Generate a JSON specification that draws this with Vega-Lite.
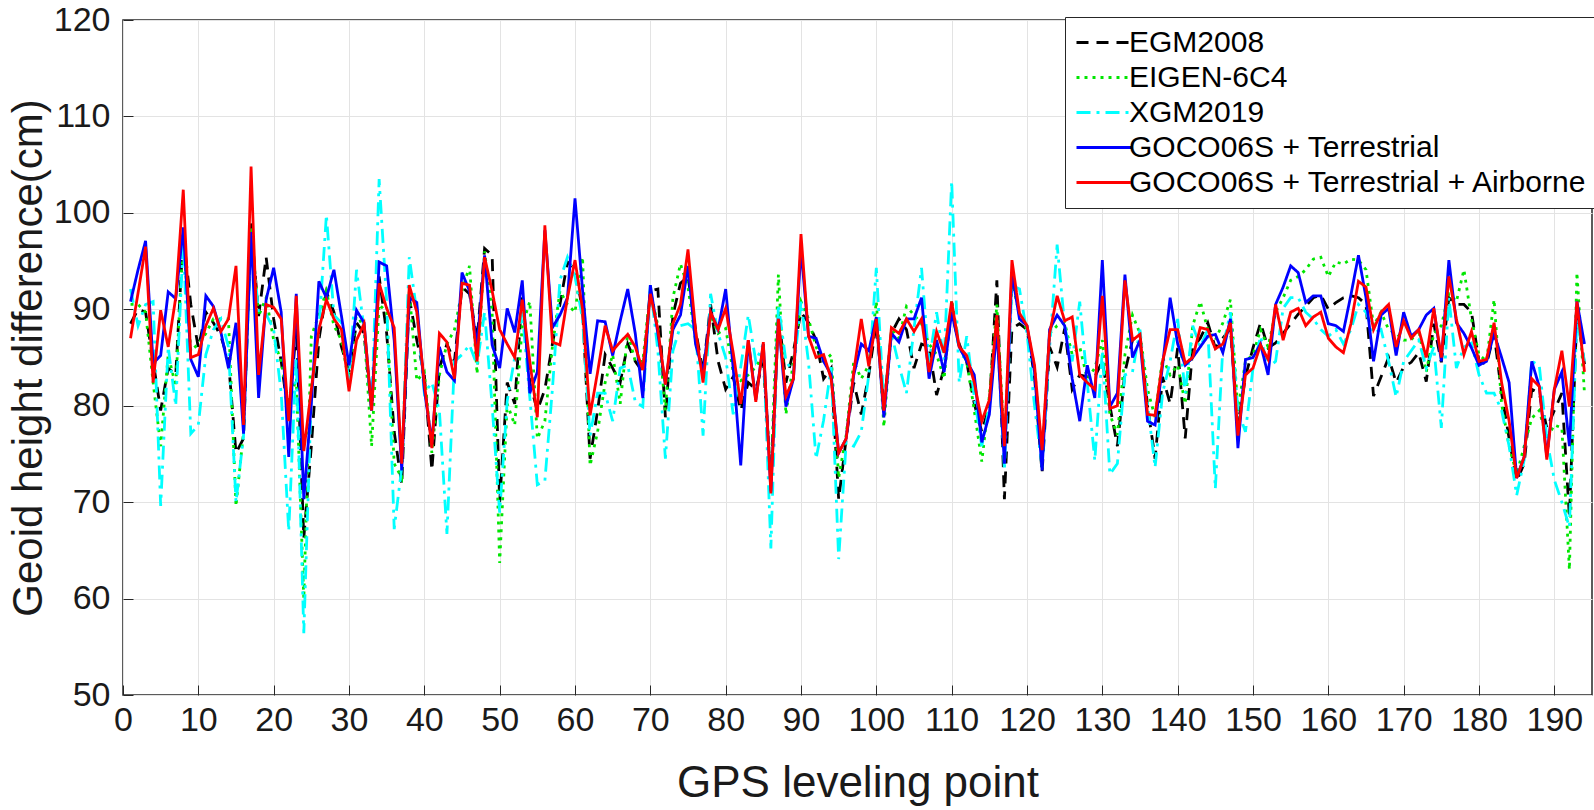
{
"$schema":"https://vega.github.io/schema/vega-lite/v6.json",
"width":1469,"height":675,
"autosize":{"type":"none"},
"padding":{"left":123,"top":20,"right":2,"bottom":115},
"background":"white",
"config":{"view":{"stroke":"#262626","strokeWidth":1.5},"font":"Liberation Sans"},
"data":{"values":[
{"i":1,"EGM2008":88.5,"EIGEN-6C4":90.5,"XGM2019":92.1,"GT":90.8,"GTA":87.0},
{"i":2,"EGM2008":90.0,"EIGEN-6C4":90.5,"XGM2019":88.3,"GT":94.1,"GTA":91.7},
{"i":3,"EGM2008":89.7,"EIGEN-6C4":89.7,"XGM2019":90.5,"GT":97.1,"GTA":96.5},
{"i":4,"EGM2008":84.6,"EIGEN-6C4":82.4,"XGM2019":90.8,"GT":84.4,"GTA":82.4},
{"i":5,"EGM2008":79.5,"EIGEN-6C4":75.8,"XGM2019":69.6,"GT":85.2,"GTA":89.9},
{"i":6,"EGM2008":83.9,"EIGEN-6C4":85.3,"XGM2019":86.1,"GT":91.8,"GTA":86.1},
{"i":7,"EGM2008":83.2,"EIGEN-6C4":82.0,"XGM2019":80.0,"GT":91.1,"GTA":91.2},
{"i":8,"EGM2008":97.8,"EIGEN-6C4":97.8,"XGM2019":97.1,"GT":98.5,"GTA":102.4},
{"i":9,"EGM2008":90.5,"EIGEN-6C4":85.7,"XGM2019":77.1,"GT":84.8,"GTA":85.0},
{"i":10,"EGM2008":86.0,"EIGEN-6C4":86.4,"XGM2019":78.0,"GT":83.0,"GTA":85.3},
{"i":11,"EGM2008":89.7,"EIGEN-6C4":87.5,"XGM2019":85.3,"GT":91.4,"GTA":88.3},
{"i":12,"EGM2008":88.6,"EIGEN-6C4":89.0,"XGM2019":87.9,"GT":90.3,"GTA":90.1},
{"i":13,"EGM2008":87.2,"EIGEN-6C4":89.0,"XGM2019":89.0,"GT":87.6,"GTA":87.7},
{"i":14,"EGM2008":84.6,"EIGEN-6C4":89.0,"XGM2019":86.1,"GT":83.9,"GTA":89.0},
{"i":15,"EGM2008":75.1,"EIGEN-6C4":69.6,"XGM2019":70.0,"GT":88.6,"GTA":94.5},
{"i":16,"EGM2008":76.6,"EIGEN-6C4":77.3,"XGM2019":76.9,"GT":77.1,"GTA":78.0},
{"i":17,"EGM2008":98.9,"EIGEN-6C4":98.5,"XGM2019":97.8,"GT":98.0,"GTA":104.8},
{"i":18,"EGM2008":89.3,"EIGEN-6C4":89.3,"XGM2019":89.7,"GT":80.8,"GTA":83.2},
{"i":19,"EGM2008":95.4,"EIGEN-6C4":91.2,"XGM2019":89.5,"GT":91.0,"GTA":90.5},
{"i":20,"EGM2008":89.0,"EIGEN-6C4":86.8,"XGM2019":87.9,"GT":94.3,"GTA":90.2},
{"i":21,"EGM2008":84.6,"EIGEN-6C4":84.6,"XGM2019":81.3,"GT":89.7,"GTA":89.0},
{"i":22,"EGM2008":78.8,"EIGEN-6C4":80.2,"XGM2019":67.0,"GT":74.7,"GTA":78.4},
{"i":23,"EGM2008":88.0,"EIGEN-6C4":82.8,"XGM2019":85.0,"GT":91.6,"GTA":91.4},
{"i":24,"EGM2008":66.3,"EIGEN-6C4":60.0,"XGM2019":56.4,"GT":70.3,"GTA":75.3},
{"i":25,"EGM2008":75.8,"EIGEN-6C4":87.2,"XGM2019":81.3,"GT":80.2,"GTA":81.7},
{"i":26,"EGM2008":86.8,"EIGEN-6C4":89.4,"XGM2019":87.9,"GT":92.9,"GTA":87.9},
{"i":27,"EGM2008":91.8,"EIGEN-6C4":91.9,"XGM2019":99.8,"GT":91.2,"GTA":91.0},
{"i":28,"EGM2008":89.7,"EIGEN-6C4":88.3,"XGM2019":89.4,"GT":94.1,"GTA":89.0},
{"i":29,"EGM2008":86.1,"EIGEN-6C4":86.8,"XGM2019":88.6,"GT":89.3,"GTA":87.9},
{"i":30,"EGM2008":83.5,"EIGEN-6C4":82.4,"XGM2019":82.4,"GT":84.2,"GTA":81.5},
{"i":31,"EGM2008":88.6,"EIGEN-6C4":89.7,"XGM2019":94.1,"GT":89.9,"GTA":86.8},
{"i":32,"EGM2008":87.5,"EIGEN-6C4":87.9,"XGM2019":87.9,"GT":88.6,"GTA":88.5},
{"i":33,"EGM2008":79.5,"EIGEN-6C4":75.8,"XGM2019":79.5,"GT":79.5,"GTA":79.5},
{"i":34,"EGM2008":93.4,"EIGEN-6C4":90.5,"XGM2019":103.5,"GT":94.9,"GTA":92.7},
{"i":35,"EGM2008":87.5,"EIGEN-6C4":89.7,"XGM2019":90.8,"GT":94.5,"GTA":90.1},
{"i":36,"EGM2008":77.3,"EIGEN-6C4":74.0,"XGM2019":67.2,"GT":86.8,"GTA":88.1},
{"i":37,"EGM2008":71.8,"EIGEN-6C4":72.5,"XGM2019":73.6,"GT":73.3,"GTA":74.0},
{"i":38,"EGM2008":91.2,"EIGEN-6C4":91.9,"XGM2019":95.4,"GT":91.2,"GTA":92.5},
{"i":39,"EGM2008":86.8,"EIGEN-6C4":82.6,"XGM2019":89.7,"GT":90.7,"GTA":89.7},
{"i":40,"EGM2008":83.2,"EIGEN-6C4":83.5,"XGM2019":81.3,"GT":81.7,"GTA":82.4},
{"i":41,"EGM2008":73.3,"EIGEN-6C4":75.1,"XGM2019":82.4,"GT":76.2,"GTA":75.6},
{"i":42,"EGM2008":83.9,"EIGEN-6C4":83.2,"XGM2019":79.5,"GT":86.1,"GTA":87.5},
{"i":43,"EGM2008":86.4,"EIGEN-6C4":86.4,"XGM2019":66.7,"GT":83.5,"GTA":86.6},
{"i":44,"EGM2008":84.6,"EIGEN-6C4":87.9,"XGM2019":84.6,"GT":82.6,"GTA":82.8},
{"i":45,"EGM2008":92.3,"EIGEN-6C4":91.9,"XGM2019":85.3,"GT":93.8,"GTA":92.7},
{"i":46,"EGM2008":91.6,"EIGEN-6C4":94.5,"XGM2019":86.3,"GT":91.9,"GTA":92.5},
{"i":47,"EGM2008":86.8,"EIGEN-6C4":83.3,"XGM2019":84.2,"GT":86.1,"GTA":84.6},
{"i":48,"EGM2008":96.3,"EIGEN-6C4":96.0,"XGM2019":89.7,"GT":95.6,"GTA":95.4},
{"i":49,"EGM2008":95.6,"EIGEN-6C4":89.7,"XGM2019":80.0,"GT":86.3,"GTA":91.9},
{"i":50,"EGM2008":70.0,"EIGEN-6C4":63.7,"XGM2019":68.9,"GT":83.9,"GTA":87.9},
{"i":51,"EGM2008":82.4,"EIGEN-6C4":80.2,"XGM2019":80.5,"GT":90.1,"GTA":86.4},
{"i":52,"EGM2008":80.2,"EIGEN-6C4":78.0,"XGM2019":85.0,"GT":87.6,"GTA":85.0},
{"i":53,"EGM2008":91.6,"EIGEN-6C4":88.3,"XGM2019":89.7,"GT":93.0,"GTA":91.0},
{"i":54,"EGM2008":82.4,"EIGEN-6C4":90.8,"XGM2019":80.9,"GT":81.3,"GTA":84.6},
{"i":55,"EGM2008":79.5,"EIGEN-6C4":76.6,"XGM2019":71.8,"GT":83.5,"GTA":78.8},
{"i":56,"EGM2008":81.7,"EIGEN-6C4":78.4,"XGM2019":72.2,"GT":98.2,"GTA":98.7},
{"i":57,"EGM2008":86.4,"EIGEN-6C4":86.1,"XGM2019":81.7,"GT":88.1,"GTA":86.6},
{"i":58,"EGM2008":90.5,"EIGEN-6C4":91.9,"XGM2019":93.0,"GT":89.4,"GTA":86.3},
{"i":59,"EGM2008":94.9,"EIGEN-6C4":90.5,"XGM2019":95.4,"GT":91.2,"GTA":91.2},
{"i":60,"EGM2008":94.1,"EIGEN-6C4":89.7,"XGM2019":93.4,"GT":101.5,"GTA":95.1},
{"i":61,"EGM2008":90.0,"EIGEN-6C4":95.4,"XGM2019":89.0,"GT":92.0,"GTA":90.0},
{"i":62,"EGM2008":74.5,"EIGEN-6C4":73.8,"XGM2019":76.9,"GT":83.3,"GTA":79.0},
{"i":63,"EGM2008":79.5,"EIGEN-6C4":77.3,"XGM2019":81.3,"GT":88.8,"GTA":83.5},
{"i":64,"EGM2008":85.3,"EIGEN-6C4":82.4,"XGM2019":81.3,"GT":88.7,"GTA":88.3},
{"i":65,"EGM2008":83.9,"EIGEN-6C4":85.3,"XGM2019":78.4,"GT":85.2,"GTA":85.7},
{"i":66,"EGM2008":82.4,"EIGEN-6C4":80.2,"XGM2019":83.9,"GT":88.8,"GTA":86.6},
{"i":67,"EGM2008":86.4,"EIGEN-6C4":87.5,"XGM2019":84.2,"GT":92.1,"GTA":87.4},
{"i":68,"EGM2008":84.6,"EIGEN-6C4":84.6,"XGM2019":80.4,"GT":87.5,"GTA":86.1},
{"i":69,"EGM2008":83.5,"EIGEN-6C4":84.6,"XGM2019":79.9,"GT":80.8,"GTA":83.7},
{"i":70,"EGM2008":91.9,"EIGEN-6C4":91.9,"XGM2019":92.5,"GT":92.5,"GTA":91.6},
{"i":71,"EGM2008":92.1,"EIGEN-6C4":88.3,"XGM2019":85.7,"GT":87.5,"GTA":87.9},
{"i":72,"EGM2008":78.8,"EIGEN-6C4":79.5,"XGM2019":74.5,"GT":82.2,"GTA":82.2},
{"i":73,"EGM2008":89.4,"EIGEN-6C4":91.2,"XGM2019":85.7,"GT":87.9,"GTA":88.5},
{"i":74,"EGM2008":92.7,"EIGEN-6C4":94.7,"XGM2019":88.3,"GT":89.4,"GTA":90.5},
{"i":75,"EGM2008":93.4,"EIGEN-6C4":92.3,"XGM2019":88.5,"GT":94.5,"GTA":96.2},
{"i":76,"EGM2008":87.9,"EIGEN-6C4":86.8,"XGM2019":87.9,"GT":86.4,"GTA":87.9},
{"i":77,"EGM2008":83.5,"EIGEN-6C4":83.2,"XGM2019":76.9,"GT":83.5,"GTA":82.4},
{"i":78,"EGM2008":90.5,"EIGEN-6C4":89.4,"XGM2019":91.6,"GT":89.7,"GTA":89.7},
{"i":79,"EGM2008":84.6,"EIGEN-6C4":87.5,"XGM2019":87.5,"GT":87.9,"GTA":87.9},
{"i":80,"EGM2008":81.7,"EIGEN-6C4":88.0,"XGM2019":85.0,"GT":92.1,"GTA":90.1},
{"i":81,"EGM2008":83.0,"EIGEN-6C4":83.5,"XGM2019":79.1,"GT":83.9,"GTA":85.5},
{"i":82,"EGM2008":79.5,"EIGEN-6C4":82.6,"XGM2019":84.0,"GT":73.8,"GTA":80.2},
{"i":83,"EGM2008":82.4,"EIGEN-6C4":83.2,"XGM2019":89.4,"GT":86.8,"GTA":86.8},
{"i":84,"EGM2008":81.7,"EIGEN-6C4":84.0,"XGM2019":84.6,"GT":80.6,"GTA":80.4},
{"i":85,"EGM2008":84.6,"EIGEN-6C4":85.3,"XGM2019":86.4,"GT":86.4,"GTA":86.6},
{"i":86,"EGM2008":72.2,"EIGEN-6C4":72.5,"XGM2019":65.2,"GT":71.1,"GTA":70.9},
{"i":87,"EGM2008":89.7,"EIGEN-6C4":93.6,"XGM2019":90.5,"GT":89.0,"GTA":89.0},
{"i":88,"EGM2008":82.4,"EIGEN-6C4":79.1,"XGM2019":84.6,"GT":79.9,"GTA":81.0},
{"i":89,"EGM2008":85.7,"EIGEN-6C4":84.6,"XGM2019":83.5,"GT":82.8,"GTA":82.8},
{"i":90,"EGM2008":89.7,"EIGEN-6C4":90.8,"XGM2019":90.8,"GT":96.3,"GTA":97.8},
{"i":91,"EGM2008":88.6,"EIGEN-6C4":89.0,"XGM2019":84.5,"GT":87.2,"GTA":87.2},
{"i":92,"EGM2008":86.8,"EIGEN-6C4":86.1,"XGM2019":74.5,"GT":87.0,"GTA":85.0},
{"i":93,"EGM2008":82.8,"EIGEN-6C4":84.6,"XGM2019":78.5,"GT":84.6,"GTA":85.3},
{"i":94,"EGM2008":83.9,"EIGEN-6C4":85.3,"XGM2019":84.0,"GT":83.2,"GTA":82.8},
{"i":95,"EGM2008":70.3,"EIGEN-6C4":72.5,"XGM2019":64.1,"GT":75.1,"GTA":75.1},
{"i":96,"EGM2008":76.6,"EIGEN-6C4":77.0,"XGM2019":76.2,"GT":76.6,"GTA":76.6},
{"i":97,"EGM2008":82.4,"EIGEN-6C4":84.6,"XGM2019":75.8,"GT":83.2,"GTA":83.5},
{"i":98,"EGM2008":79.1,"EIGEN-6C4":82.8,"XGM2019":77.3,"GT":86.4,"GTA":89.0},
{"i":99,"EGM2008":83.2,"EIGEN-6C4":84.2,"XGM2019":83.2,"GT":85.7,"GTA":84.1},
{"i":100,"EGM2008":88.6,"EIGEN-6C4":90.8,"XGM2019":94.3,"GT":89.2,"GTA":89.0},
{"i":101,"EGM2008":79.9,"EIGEN-6C4":77.8,"XGM2019":80.0,"GT":78.8,"GTA":79.5},
{"i":102,"EGM2008":87.5,"EIGEN-6C4":87.9,"XGM2019":87.5,"GT":87.5,"GTA":88.1},
{"i":103,"EGM2008":89.0,"EIGEN-6C4":87.0,"XGM2019":84.2,"GT":86.6,"GTA":87.5},
{"i":104,"EGM2008":87.9,"EIGEN-6C4":90.3,"XGM2019":81.3,"GT":89.0,"GTA":89.0},
{"i":105,"EGM2008":83.9,"EIGEN-6C4":89.4,"XGM2019":88.0,"GT":89.0,"GTA":87.7},
{"i":106,"EGM2008":86.4,"EIGEN-6C4":88.5,"XGM2019":94.3,"GT":91.2,"GTA":89.0},
{"i":107,"EGM2008":86.1,"EIGEN-6C4":86.4,"XGM2019":84.5,"GT":82.8,"GTA":83.5},
{"i":108,"EGM2008":81.1,"EIGEN-6C4":85.3,"XGM2019":89.7,"GT":86.8,"GTA":87.7},
{"i":109,"EGM2008":83.9,"EIGEN-6C4":82.8,"XGM2019":84.8,"GT":83.5,"GTA":85.5},
{"i":110,"EGM2008":89.7,"EIGEN-6C4":91.0,"XGM2019":103.3,"GT":89.7,"GTA":90.8},
{"i":111,"EGM2008":86.4,"EIGEN-6C4":86.1,"XGM2019":82.4,"GT":86.1,"GTA":86.1},
{"i":112,"EGM2008":84.5,"EIGEN-6C4":84.6,"XGM2019":87.2,"GT":84.6,"GTA":85.2},
{"i":113,"EGM2008":80.2,"EIGEN-6C4":79.5,"XGM2019":80.9,"GT":83.2,"GTA":82.4},
{"i":114,"EGM2008":77.3,"EIGEN-6C4":74.2,"XGM2019":75.8,"GT":76.2,"GTA":78.4},
{"i":115,"EGM2008":80.0,"EIGEN-6C4":81.0,"XGM2019":80.0,"GT":79.1,"GTA":80.6},
{"i":116,"EGM2008":93.0,"EIGEN-6C4":90.5,"XGM2019":88.5,"GT":88.0,"GTA":89.4},
{"i":117,"EGM2008":70.3,"EIGEN-6C4":76.0,"XGM2019":73.3,"GT":74.0,"GTA":75.8},
{"i":118,"EGM2008":88.0,"EIGEN-6C4":93.0,"XGM2019":92.5,"GT":93.8,"GTA":95.1},
{"i":119,"EGM2008":88.5,"EIGEN-6C4":89.4,"XGM2019":92.1,"GT":89.0,"GTA":89.6},
{"i":120,"EGM2008":87.9,"EIGEN-6C4":87.9,"XGM2019":87.5,"GT":88.3,"GTA":88.3},
{"i":121,"EGM2008":83.0,"EIGEN-6C4":84.0,"XGM2019":80.0,"GT":83.5,"GTA":84.2},
{"i":122,"EGM2008":73.0,"EIGEN-6C4":74.7,"XGM2019":73.6,"GT":73.3,"GTA":75.4},
{"i":123,"EGM2008":86.1,"EIGEN-6C4":87.5,"XGM2019":86.0,"GT":87.9,"GTA":87.5},
{"i":124,"EGM2008":84.0,"EIGEN-6C4":88.3,"XGM2019":96.7,"GT":89.4,"GTA":91.4},
{"i":125,"EGM2008":88.0,"EIGEN-6C4":88.6,"XGM2019":88.3,"GT":88.3,"GTA":88.8},
{"i":126,"EGM2008":81.7,"EIGEN-6C4":85.3,"XGM2019":84.6,"GT":82.8,"GTA":89.2},
{"i":127,"EGM2008":83.2,"EIGEN-6C4":86.1,"XGM2019":90.8,"GT":78.4,"GTA":83.2},
{"i":128,"EGM2008":83.0,"EIGEN-6C4":82.8,"XGM2019":82.4,"GT":84.2,"GTA":82.4},
{"i":129,"EGM2008":83.0,"EIGEN-6C4":83.9,"XGM2019":74.3,"GT":80.8,"GTA":81.7},
{"i":130,"EGM2008":84.6,"EIGEN-6C4":86.8,"XGM2019":85.7,"GT":95.1,"GTA":91.4},
{"i":131,"EGM2008":80.0,"EIGEN-6C4":79.1,"XGM2019":72.9,"GT":79.9,"GTA":79.7},
{"i":132,"EGM2008":75.8,"EIGEN-6C4":77.0,"XGM2019":74.0,"GT":81.3,"GTA":80.0},
{"i":133,"EGM2008":83.5,"EIGEN-6C4":85.3,"XGM2019":83.2,"GT":93.6,"GTA":93.0},
{"i":134,"EGM2008":86.8,"EIGEN-6C4":89.4,"XGM2019":83.5,"GT":85.0,"GTA":86.8},
{"i":135,"EGM2008":87.4,"EIGEN-6C4":87.5,"XGM2019":87.9,"GT":86.8,"GTA":87.4},
{"i":136,"EGM2008":80.0,"EIGEN-6C4":81.7,"XGM2019":80.2,"GT":78.4,"GTA":79.1},
{"i":137,"EGM2008":74.5,"EIGEN-6C4":78.8,"XGM2019":73.6,"GT":78.0,"GTA":79.0},
{"i":138,"EGM2008":83.0,"EIGEN-6C4":85.0,"XGM2019":81.3,"GT":84.2,"GTA":84.6},
{"i":139,"EGM2008":80.2,"EIGEN-6C4":83.2,"XGM2019":84.6,"GT":91.2,"GTA":87.9},
{"i":140,"EGM2008":86.0,"EIGEN-6C4":84.2,"XGM2019":89.0,"GT":86.4,"GTA":87.9},
{"i":141,"EGM2008":76.6,"EIGEN-6C4":80.2,"XGM2019":81.3,"GT":84.2,"GTA":84.4},
{"i":142,"EGM2008":86.0,"EIGEN-6C4":88.3,"XGM2019":88.3,"GT":85.0,"GTA":85.0},
{"i":143,"EGM2008":87.0,"EIGEN-6C4":90.8,"XGM2019":86.1,"GT":86.1,"GTA":88.1},
{"i":144,"EGM2008":88.6,"EIGEN-6C4":87.9,"XGM2019":87.9,"GT":87.2,"GTA":87.9},
{"i":145,"EGM2008":86.0,"EIGEN-6C4":86.8,"XGM2019":71.4,"GT":87.4,"GTA":85.9},
{"i":146,"EGM2008":87.0,"EIGEN-6C4":88.6,"XGM2019":86.1,"GT":85.5,"GTA":86.4},
{"i":147,"EGM2008":88.0,"EIGEN-6C4":91.0,"XGM2019":89.7,"GT":89.0,"GTA":88.6},
{"i":148,"EGM2008":78.0,"EIGEN-6C4":79.5,"XGM2019":79.5,"GT":75.6,"GTA":76.9},
{"i":149,"EGM2008":83.0,"EIGEN-6C4":84.6,"XGM2019":77.3,"GT":84.8,"GTA":83.2},
{"i":150,"EGM2008":86.0,"EIGEN-6C4":85.3,"XGM2019":83.9,"GT":85.0,"GTA":83.9},
{"i":151,"EGM2008":88.6,"EIGEN-6C4":87.9,"XGM2019":87.2,"GT":86.4,"GTA":86.3},
{"i":152,"EGM2008":86.0,"EIGEN-6C4":86.1,"XGM2019":83.9,"GT":83.2,"GTA":84.8},
{"i":153,"EGM2008":86.5,"EIGEN-6C4":89.7,"XGM2019":84.6,"GT":90.5,"GTA":90.5},
{"i":154,"EGM2008":87.5,"EIGEN-6C4":91.2,"XGM2019":90.1,"GT":92.3,"GTA":86.8},
{"i":155,"EGM2008":88.5,"EIGEN-6C4":93.0,"XGM2019":91.2,"GT":94.5,"GTA":89.7},
{"i":156,"EGM2008":89.5,"EIGEN-6C4":93.4,"XGM2019":91.2,"GT":93.8,"GTA":90.1},
{"i":157,"EGM2008":90.3,"EIGEN-6C4":94.1,"XGM2019":89.7,"GT":90.7,"GTA":88.3},
{"i":158,"EGM2008":91.2,"EIGEN-6C4":95.2,"XGM2019":89.0,"GT":91.4,"GTA":89.2},
{"i":159,"EGM2008":91.5,"EIGEN-6C4":95.4,"XGM2019":87.9,"GT":91.4,"GTA":89.7},
{"i":160,"EGM2008":90.0,"EIGEN-6C4":93.4,"XGM2019":87.2,"GT":88.5,"GTA":87.0},
{"i":161,"EGM2008":90.7,"EIGEN-6C4":94.9,"XGM2019":87.9,"GT":88.3,"GTA":86.1},
{"i":162,"EGM2008":91.2,"EIGEN-6C4":94.7,"XGM2019":86.4,"GT":87.7,"GTA":85.5},
{"i":163,"EGM2008":91.4,"EIGEN-6C4":95.2,"XGM2019":87.9,"GT":91.5,"GTA":88.5},
{"i":164,"EGM2008":91.2,"EIGEN-6C4":95.1,"XGM2019":90.5,"GT":95.6,"GTA":92.9},
{"i":165,"EGM2008":90.5,"EIGEN-6C4":94.1,"XGM2019":89.7,"GT":91.2,"GTA":92.3},
{"i":166,"EGM2008":81.0,"EIGEN-6C4":88.3,"XGM2019":87.5,"GT":84.6,"GTA":87.9},
{"i":167,"EGM2008":83.0,"EIGEN-6C4":89.7,"XGM2019":87.9,"GT":89.4,"GTA":89.7},
{"i":168,"EGM2008":85.0,"EIGEN-6C4":87.9,"XGM2019":84.6,"GT":90.1,"GTA":90.5},
{"i":169,"EGM2008":82.4,"EIGEN-6C4":87.5,"XGM2019":80.9,"GT":85.2,"GTA":86.1},
{"i":170,"EGM2008":84.0,"EIGEN-6C4":86.8,"XGM2019":84.6,"GT":89.7,"GTA":88.8},
{"i":171,"EGM2008":84.5,"EIGEN-6C4":86.8,"XGM2019":85.7,"GT":87.2,"GTA":87.0},
{"i":172,"EGM2008":85.5,"EIGEN-6C4":87.9,"XGM2019":86.8,"GT":87.9,"GTA":87.9},
{"i":173,"EGM2008":82.5,"EIGEN-6C4":83.5,"XGM2019":83.9,"GT":89.4,"GTA":85.0},
{"i":174,"EGM2008":88.5,"EIGEN-6C4":87.5,"XGM2019":86.1,"GT":90.1,"GTA":90.1},
{"i":175,"EGM2008":84.5,"EIGEN-6C4":88.3,"XGM2019":77.7,"GT":84.6,"GTA":85.0},
{"i":176,"EGM2008":91.2,"EIGEN-6C4":91.6,"XGM2019":91.2,"GT":95.1,"GTA":93.4},
{"i":177,"EGM2008":90.5,"EIGEN-6C4":90.8,"XGM2019":83.9,"GT":88.6,"GTA":89.0},
{"i":178,"EGM2008":90.5,"EIGEN-6C4":94.1,"XGM2019":86.1,"GT":87.5,"GTA":85.3},
{"i":179,"EGM2008":89.7,"EIGEN-6C4":89.0,"XGM2019":86.5,"GT":86.0,"GTA":87.7},
{"i":180,"EGM2008":84.6,"EIGEN-6C4":85.3,"XGM2019":83.2,"GT":84.2,"GTA":84.6},
{"i":181,"EGM2008":84.3,"EIGEN-6C4":84.6,"XGM2019":81.3,"GT":84.6,"GTA":84.8},
{"i":182,"EGM2008":87.5,"EIGEN-6C4":91.0,"XGM2019":81.3,"GT":87.5,"GTA":88.6},
{"i":183,"EGM2008":81.3,"EIGEN-6C4":80.2,"XGM2019":79.5,"GT":85.0,"GTA":82.4},
{"i":184,"EGM2008":76.6,"EIGEN-6C4":75.8,"XGM2019":75.8,"GT":82.4,"GTA":78.4},
{"i":185,"EGM2008":72.2,"EIGEN-6C4":72.9,"XGM2019":70.7,"GT":72.5,"GTA":72.5},
{"i":186,"EGM2008":74.0,"EIGEN-6C4":75.8,"XGM2019":74.4,"GT":74.7,"GTA":74.7},
{"i":187,"EGM2008":81.7,"EIGEN-6C4":78.7,"XGM2019":84.6,"GT":84.6,"GTA":82.8},
{"i":188,"EGM2008":81.3,"EIGEN-6C4":79.5,"XGM2019":84.2,"GT":82.0,"GTA":82.0},
{"i":189,"EGM2008":77.7,"EIGEN-6C4":76.6,"XGM2019":76.6,"GT":74.7,"GTA":74.4},
{"i":190,"EGM2008":79.5,"EIGEN-6C4":78.0,"XGM2019":72.3,"GT":81.7,"GTA":81.7},
{"i":191,"EGM2008":81.3,"EIGEN-6C4":77.7,"XGM2019":70.0,"GT":83.5,"GTA":85.7},
{"i":192,"EGM2008":68.5,"EIGEN-6C4":63.0,"XGM2019":67.4,"GT":75.8,"GTA":79.9},
{"i":193,"EGM2008":89.7,"EIGEN-6C4":93.8,"XGM2019":89.0,"GT":90.8,"GTA":90.8},
{"i":194,"EGM2008":84.3,"EIGEN-6C4":81.3,"XGM2019":84.6,"GT":86.4,"GTA":83.5}
]},
"transform":[{"fold":["EGM2008","EIGEN-6C4","XGM2019","GT","GTA"],"as":["model","value"]}],
"mark":{"type":"line","strokeWidth":2.8,"clip":true},
"encoding":{
"x":{"field":"i","type":"quantitative","scale":{"domain":[0,195],"nice":false,"zero":false},
"axis":{"values":[0,10,20,30,40,50,60,70,80,90,100,110,120,130,140,150,160,170,180,190],"title":"GPS leveling point","grid":true,"gridColor":"#e3e3e3","domain":false,"ticks":true,"tickColor":"#262626","tickSize":-10,"labelPadding":18,"labelFontSize":34,"labelFont":"Liberation Sans","labelColor":"#1a1a1a","titleFontSize":44,"titleFont":"Liberation Sans","titleFontWeight":"normal","titleColor":"#1a1a1a","titlePadding":24,"labelFlush":false}},
"y":{"field":"value","type":"quantitative","scale":{"domain":[50,120],"nice":false,"zero":false},
"axis":{"values":[50,60,70,80,90,100,110,120],"title":"Geoid height difference(cm)","grid":true,"gridColor":"#e3e3e3","domain":false,"ticks":true,"tickColor":"#262626","tickSize":-10,"labelPadding":23,"labelFontSize":34,"labelFont":"Liberation Sans","labelColor":"#1a1a1a","titleFontSize":42,"titleFont":"Liberation Sans","titleFontWeight":"normal","titleColor":"#1a1a1a","titlePadding":3,"labelFlush":false}},
"color":{"field":"model","type":"nominal","sort":["EGM2008","EIGEN-6C4","XGM2019","GT","GTA"],
"scale":{"domain":["EGM2008","EIGEN-6C4","XGM2019","GT","GTA"],"range":["#000000","#00e600","#00ffff","#0000ff","#ff0000"]},
"legend":{"title":null,"orient":"none","legendX":942,"legendY":-3,"symbolType":"M-2,0L2,0","symbolSize":784,"symbolStrokeWidth":3,"symbolOffset":14,"labelFontSize":30,"labelFont":"Liberation Sans","labelColor":"#000000","rowPadding":4,"padding":10,"strokeColor":"#262626","fillColor":"white","labelOffset":9,"labelLimit":700,
"labelExpr":"datum.label == 'GT' ? 'GOCO06S + Terrestrial' : datum.label == 'GTA' ? 'GOCO06S + Terrestrial + Airborne' : datum.label"}},
"strokeDash":{"field":"model","type":"nominal","sort":["EGM2008","EIGEN-6C4","XGM2019","GT","GTA"],
"scale":{"domain":["EGM2008","EIGEN-6C4","XGM2019","GT","GTA"],"range":[[12,8],[3,5],[14,6,3,6],[1,0],[1,0]]},
"legend":{"title":null,"orient":"none","legendX":942,"legendY":-3,"symbolType":"M-2,0L2,0","symbolSize":784,"symbolStrokeWidth":3,"symbolOffset":14,"labelFontSize":30,"labelFont":"Liberation Sans","labelColor":"#000000","rowPadding":4,"padding":10,"strokeColor":"#262626","fillColor":"white","labelOffset":9,"labelLimit":700,
"labelExpr":"datum.label == 'GT' ? 'GOCO06S + Terrestrial' : datum.label == 'GTA' ? 'GOCO06S + Terrestrial + Airborne' : datum.label"}}
}
}
